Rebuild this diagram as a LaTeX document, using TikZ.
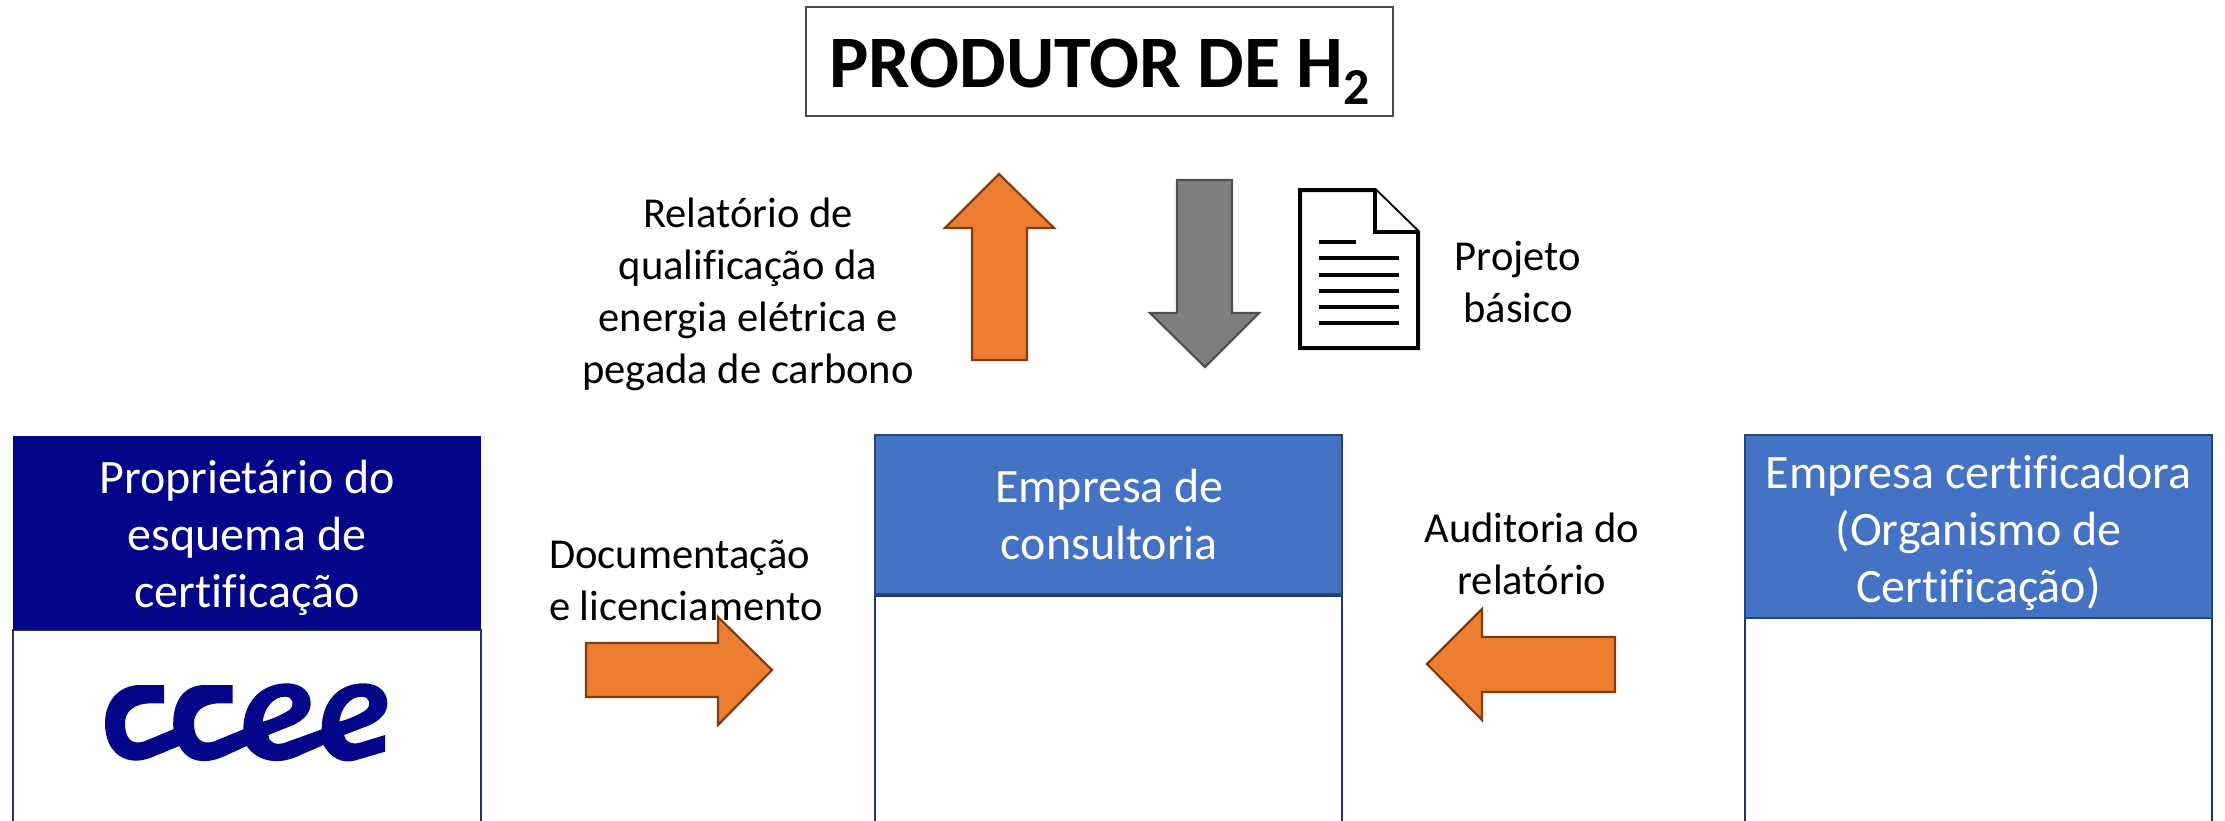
\documentclass[tikz,border=0pt]{standalone}
\usepackage{fontspec}
\setmainfont{Carlito}[Ligatures=NoCommon]
\definecolor{navyhead}{HTML}{05058A}
\definecolor{bluehead}{HTML}{4472C4}
\definecolor{blueline}{HTML}{264478}
\definecolor{boxline}{HTML}{203864}
\definecolor{orangefill}{HTML}{ED7D31}
\definecolor{orangeline}{HTML}{843C0C}
\definecolor{grayfill}{HTML}{7F7F7F}
\definecolor{grayline}{HTML}{505050}
\tikzset{
  x=0.5pt,y=-0.5pt,
  headbox/.style={inner sep=0pt,outer sep=0pt},
  navybox/.style={headbox,fill=navyhead},
  bluebox/.style={headbox,fill=bluehead,draw=blueline,line width=1.3pt},
  headtext/.style={inner sep=0pt,outer sep=0pt,align=center,text=white,font=\fontsize{24}{28.5}\selectfont},
  emptybox/.style={inner sep=0pt,outer sep=0pt,fill=white,draw=boxline,line width=1pt},
  titlebox/.style={inner sep=0pt,outer sep=0pt,draw=black!70,line width=0.7pt},
  titletext/.style={inner sep=0pt,outer sep=0pt,font=\fontsize{37}{40}\selectfont\bfseries},
  caption/.style={inner sep=0pt,outer sep=0pt,align=center,font=\fontsize{21.3}{26}\selectfont},
  captionleft/.style={caption,align=left},
  orangearrow/.style={fill=orangefill,draw=orangeline,line width=1.1pt,miter limit=10},
  grayarrow/.style={fill=grayfill,draw=grayline,line width=1.1pt,miter limit=10},
  sheet/.style={fill=white,draw=black,line width=2pt,line join=miter},
  textline/.style={draw=black,line width=1.6pt},
  logofill/.style={fill=navyhead,even odd rule}
}
\begin{document}
\begin{tikzpicture}
\useasboundingbox (0,0) rectangle (2225,820);
\clip (0,0) rectangle (2225,820);
\fill[white] (0,0) rectangle (2225,820);
% title
\node[titlebox,minimum width=293.5pt,minimum height=54.5pt] (title) at (1099.5,61.5) {};
\node[titletext] (titlelabel) at (1100,72) {PRODUTOR DE H\textsubscript{2}};
% columns
\node[emptybox,minimum width=234pt,minimum height=105pt] (ownerbody) at (247,735) {};
\node[navybox,minimum width=234pt,minimum height=97pt] (owner) at (247,533) {};
\node[headtext] (ownerlabel) at (247,538) {Proprietário do\\esquema de\\certificação};
\node[emptybox,minimum width=233.5pt,minimum height=122pt] (consultbody) at (1108.5,718) {};
\node[bluebox,minimum width=233.5pt,minimum height=79.5pt] (consult) at (1108.5,514.5) {};
\node[headtext] (consultlabel) at (1109.5,514) {Empresa de\\consultoria};
\node[emptybox,minimum width=233.5pt,minimum height=111pt] (certbody) at (1978.5,729) {};
\node[bluebox,minimum width=233.5pt,minimum height=91.5pt] (cert) at (1978.5,526.5) {};
\node[headtext] (certlabel) at (1978.5,533) {Empresa certificadora\\(Organismo de\\Certificação)};
% arrows
\draw[orangearrow] (972,360) -- (972,228) -- (945,228) -- (999,174) -- (1054,228) -- (1027,228) -- (1027,360) -- cycle;
\draw[grayarrow] (1177,180) -- (1232,180) -- (1232,313) -- (1259,313) -- (1205,367) -- (1150,313) -- (1177,313) -- cycle;
\draw[orangearrow] (586,643) -- (718,643) -- (718,617) -- (772,670) -- (718,725) -- (718,697) -- (586,697) -- cycle;
\draw[orangearrow] (1615,637) -- (1482,637) -- (1482,609) -- (1427,664) -- (1482,720) -- (1482,692) -- (1615,692) -- cycle;
% document icon
\draw[sheet] (1300,190) -- (1375,190) -- (1418,232) -- (1418,348) -- (1300,348) -- cycle;
\draw[sheet] (1375,190) -- (1375,232) -- (1418,232);
\draw[textline] (1319,242) -- (1356,242);
\foreach \yy in {258,275,291,307,323} \draw[textline] (1319,\yy) -- (1399,\yy);
% captions
\node[caption] (relat) at (748,294) {Relatório de\\qualificação da\\energia elétrica e\\pegada de carbono};
\node[caption] (proj) at (1518,282) {Projeto\\básico};
\node[captionleft,anchor=west] (docu) at (549,580) {Documentação\\e licenciamento};
\node[caption] (audit) at (1532,554) {Auditoria do\\relatório};
% ccee logo
\begin{scope}[shift={(90,670)},x=0.16667pt,y=-0.16667pt]
\fill[logofill]
  (222,45) -- (222,100) -- (185,100)
  .. controls (130,100) and (105,125) .. (105,160)
  .. controls (105,205) and (125,225) .. (160,215)
  -- (250,178)
  .. controls (245,95) and (280,45) .. (345,45)
  -- (428,45) -- (428,100) -- (390,100)
  .. controls (340,100) and (312,125) .. (312,160)
  .. controls (312,205) and (335,225) .. (370,215)
  -- (460,178)
  .. controls (460,90) and (520,40) .. (590,40)
  .. controls (640,40) and (662,70) .. (662,100)
  .. controls (662,130) and (640,150) .. (610,165)
  -- (535,195)
  .. controls (535,215) and (555,228) .. (585,218)
  -- (695,178)
  .. controls (695,90) and (750,40) .. (820,40)
  .. controls (870,40) and (892,70) .. (892,100)
  .. controls (892,130) and (870,150) .. (840,165)
  -- (762,195)
  .. controls (765,215) and (785,225) .. (810,218)
  -- (885,195) -- (885,245) -- (800,270)
  .. controls (755,285) and (720,260) .. (700,225)
  -- (620,260)
  .. controls (550,290) and (495,265) .. (470,228)
  -- (400,260)
  .. controls (330,290) and (285,265) .. (268,228)
  -- (190,260)
  .. controls (110,295) and (45,250) .. (45,160)
  .. controls (45,90) and (90,45) .. (150,45)
  -- cycle
  (518,155) .. controls (522,115) and (550,80) .. (585,80)
  .. controls (610,80) and (615,105) .. (598,120)
  .. controls (575,135) and (545,148) .. (518,155) -- cycle
  (748,155) .. controls (752,115) and (780,80) .. (815,80)
  .. controls (840,80) and (845,105) .. (828,120)
  .. controls (805,135) and (775,148) .. (748,155) -- cycle;
\end{scope}
\end{tikzpicture}
\end{document}
